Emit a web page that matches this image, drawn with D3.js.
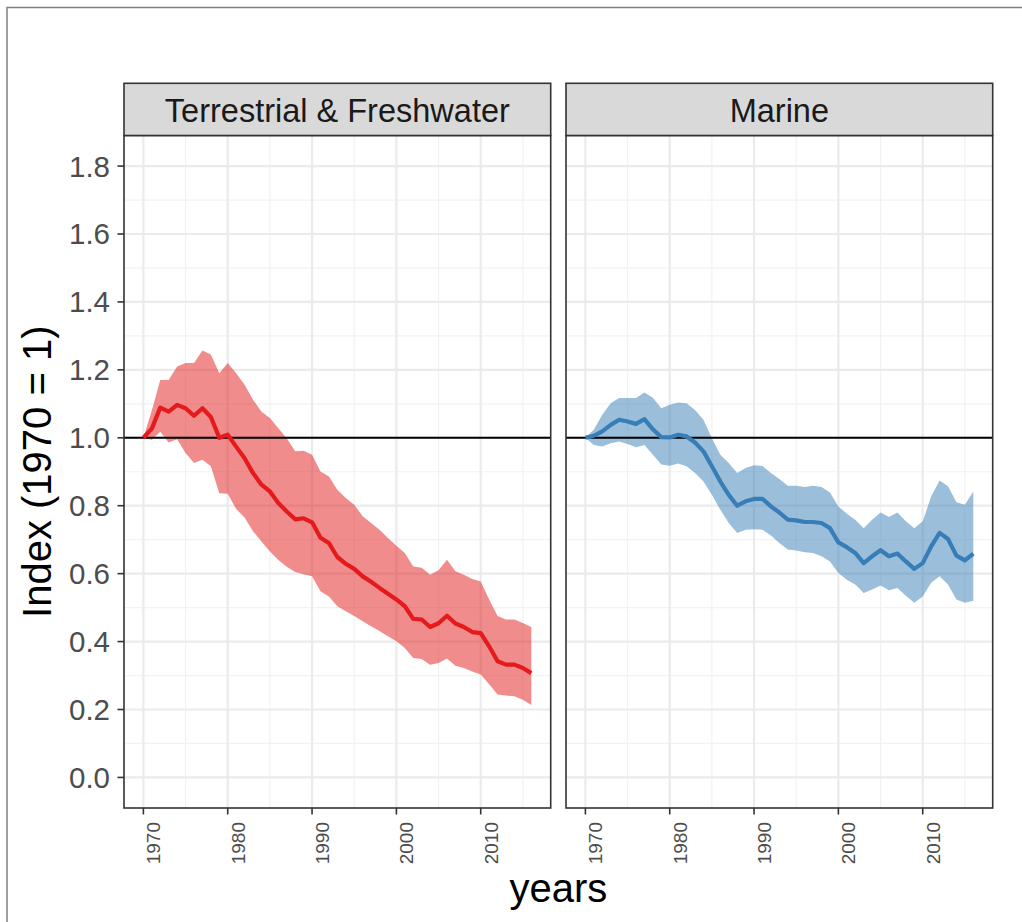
<!DOCTYPE html>
<html>
<head>
<meta charset="utf-8">
<script src="https://cdn.jsdelivr.net/npm/d3@7"></script>
<style>
  body { margin: 0; background: #fff; }
  svg text { font-family: "Liberation Sans", Arial, sans-serif; }
</style>
</head>
<body>
<div id="svgpic"></div>
<script>
  var width = 1022;
  var height = 922;

  // data, years 1970..2016
  var years = d3.range(1970, 2017);
  var facets = ["Terrestrial & Freshwater", "Marine"];
  var yTicks = [0.0, 0.2, 0.4, 0.6, 0.8, 1.0, 1.2, 1.4, 1.6, 1.8];
  var xTicks = [1970, 1980, 1990, 2000, 2010];

  var tfIndex = [1.0, 1.027, 1.089, 1.077, 1.097, 1.087, 1.065, 1.087, 1.061, 1.0,
    1.009, 0.974, 0.94, 0.896, 0.862, 0.842, 0.808, 0.783, 0.76, 0.763,
    0.751, 0.706, 0.69, 0.649, 0.629, 0.614, 0.592, 0.576, 0.558, 0.541,
    0.524, 0.504, 0.467, 0.465, 0.443, 0.454, 0.476, 0.453, 0.443, 0.428,
    0.425, 0.386, 0.342, 0.332, 0.332, 0.322, 0.307];
  var tfUpper = [1.0, 1.08, 1.17, 1.17, 1.21, 1.22, 1.22, 1.257, 1.245, 1.19,
    1.22, 1.19, 1.156, 1.112, 1.077, 1.058, 1.028, 0.999, 0.96, 0.962,
    0.95, 0.901, 0.886, 0.847, 0.823, 0.803, 0.769, 0.749, 0.729, 0.705,
    0.682, 0.661, 0.621, 0.617, 0.597, 0.61, 0.641, 0.607, 0.597, 0.584,
    0.577, 0.524, 0.475, 0.465, 0.465, 0.455, 0.443];
  var tfLower = [1.0, 0.994, 1.018, 0.986, 0.996, 0.955, 0.926, 0.935, 0.916, 0.837,
    0.835, 0.79, 0.765, 0.725, 0.695, 0.665, 0.64, 0.62, 0.605, 0.598,
    0.592, 0.548, 0.533, 0.504, 0.489, 0.475, 0.46, 0.445, 0.431, 0.416,
    0.401, 0.381, 0.352, 0.349, 0.332, 0.337, 0.35, 0.329, 0.322, 0.312,
    0.303, 0.274, 0.244, 0.241, 0.239, 0.229, 0.213];

  var marIndex = [1.0, 1.006, 1.019, 1.038, 1.053, 1.048, 1.041, 1.055, 1.025, 1.002,
    1.001, 1.009, 1.004, 0.986, 0.96, 0.916, 0.871, 0.832, 0.8, 0.813,
    0.82, 0.82, 0.798, 0.78, 0.759, 0.757, 0.752, 0.752, 0.749, 0.734,
    0.692, 0.678, 0.661, 0.631, 0.651, 0.669, 0.651, 0.659, 0.636, 0.614,
    0.631, 0.68, 0.72, 0.702, 0.653, 0.639, 0.659];
  var marUpper = [1.0, 1.024, 1.068, 1.102, 1.117, 1.117, 1.117, 1.133, 1.118, 1.087,
    1.097, 1.104, 1.102, 1.082, 1.053, 0.999, 0.95, 0.926, 0.896, 0.911,
    0.919, 0.917, 0.896, 0.879, 0.859, 0.859, 0.855, 0.859, 0.855, 0.839,
    0.798, 0.776, 0.759, 0.734, 0.759, 0.78, 0.767, 0.78, 0.754, 0.734,
    0.754, 0.827, 0.874, 0.857, 0.81, 0.803, 0.842];
  var marLower = [1.0, 0.979, 0.974, 0.984, 0.989, 0.982, 0.972, 0.979, 0.95, 0.921,
    0.918, 0.924, 0.916, 0.896, 0.871, 0.832, 0.788, 0.749, 0.72, 0.729,
    0.731, 0.729, 0.712, 0.69, 0.671, 0.668, 0.663, 0.661, 0.651, 0.636,
    0.602, 0.582, 0.568, 0.543, 0.553, 0.565, 0.551, 0.558, 0.535, 0.514,
    0.533, 0.573, 0.592, 0.568, 0.524, 0.514, 0.52];

  var lineColors = ["#E41A1C", "#377EB8"];

  var series = [
    { name: facets[0], index: tfIndex, upper: tfUpper, lower: tfLower, color: lineColors[0] },
    { name: facets[1], index: marIndex, upper: marUpper, lower: marLower, color: lineColors[1] }
  ];

  var panelLeft = [124, 566];
  var panelW = 426.7;
  var plotTop = 135.5, plotBottom = 808, stripTop = 83.3;

  var svg = d3.select("#svgpic")
              .append("svg")
              .attr("width", width)
              .attr("height", height);

  // outer border
  svg.append("rect")
     .attr("x", 7).attr("y", 7.5)
     .attr("width", 1030).attr("height", 930)
     .attr("fill", "none")
     .attr("stroke", "#808080")
     .attr("stroke-width", 1.5);

  var y = d3.scaleLinear().domain([-0.09, 1.89]).range([plotBottom, plotTop]);

  series.forEach(function(s, i){
    var x0 = panelLeft[i];
    var x = d3.scaleLinear().domain([1967.7, 2018.3]).range([x0, x0 + panelW]);
    var g = svg.append("g");

    // minor grid
    g.selectAll(".ymin").data([0.1, 0.3, 0.5, 0.7, 0.9, 1.1, 1.3, 1.5, 1.7]).enter()
     .append("line")
     .attr("x1", x0).attr("x2", x0 + panelW)
     .attr("y1", function(d){ return y(d); }).attr("y2", function(d){ return y(d); })
     .style("stroke", "#F2F2F2").style("stroke-width", 1.2);
    g.selectAll(".xmin").data([1975, 1985, 1995, 2005, 2015]).enter()
     .append("line")
     .attr("y1", plotTop).attr("y2", plotBottom)
     .attr("x1", function(d){ return x(d); }).attr("x2", function(d){ return x(d); })
     .style("stroke", "#F2F2F2").style("stroke-width", 1.2);
    // major grid
    g.selectAll(".ymaj").data(yTicks).enter()
     .append("line")
     .attr("x1", x0).attr("x2", x0 + panelW)
     .attr("y1", function(d){ return y(d); }).attr("y2", function(d){ return y(d); })
     .style("stroke", "#EBEBEB").style("stroke-width", 2.2);
    g.selectAll(".xmaj").data(xTicks).enter()
     .append("line")
     .attr("y1", plotTop).attr("y2", plotBottom)
     .attr("x1", function(d){ return x(d); }).attr("x2", function(d){ return x(d); })
     .style("stroke", "#EBEBEB").style("stroke-width", 2.2);

    var rows = years.map(function(yr, k){
      return { year: yr, v: s.index[k], lo: s.lower[k], hi: s.upper[k] };
    });

    var area = d3.area()
      .x(function(d){ return x(d.year); })
      .y0(function(d){ return y(d.lo); })
      .y1(function(d){ return y(d.hi); });
    g.append("path").datum(rows)
     .attr("d", area)
     .attr("fill", s.color)
     .attr("fill-opacity", 0.5);

    // reference line at 1
    g.append("line")
     .attr("x1", x0).attr("x2", x0 + panelW)
     .attr("y1", y(1)).attr("y2", y(1))
     .style("stroke", "#000").style("stroke-width", 2);

    var line = d3.line()
      .x(function(d){ return x(d.year); })
      .y(function(d){ return y(d.v); });
    g.append("path").datum(rows)
     .attr("d", line)
     .attr("fill", "none")
     .attr("stroke", s.color)
     .attr("stroke-width", 4.2)
     .attr("stroke-linejoin", "round");

    // panel border
    g.append("rect")
     .attr("x", x0).attr("y", plotTop)
     .attr("width", panelW).attr("height", plotBottom - plotTop)
     .attr("fill", "none")
     .attr("stroke", "#333333").attr("stroke-width", 1.6);

    // strip
    g.append("rect")
     .attr("x", x0).attr("y", stripTop)
     .attr("width", panelW).attr("height", plotTop - stripTop)
     .attr("fill", "#D9D9D9")
     .attr("stroke", "#333333").attr("stroke-width", 1.6);
    g.append("text")
     .attr("x", x0 + panelW / 2).attr("y", 121.5)
     .attr("text-anchor", "middle")
     .style("font-size", "32.5px")
     .style("fill", "#1A1A1A")
     .text(s.name);

    // x ticks
    g.selectAll(".xt").data(xTicks).enter()
     .append("line")
     .attr("x1", function(d){ return x(d); }).attr("x2", function(d){ return x(d); })
     .attr("y1", plotBottom).attr("y2", plotBottom + 6.5)
     .style("stroke", "#333333").style("stroke-width", 1.6);
    g.selectAll(".xl").data(xTicks).enter()
     .append("text")
     .attr("transform", function(d){ return "translate(" + (x(d) + 16.8) + ",822) rotate(-90)"; })
     .attr("text-anchor", "end")
     .style("font-size", "19px")
     .style("fill", "#4D4D4D")
     .text(function(d){ return d; });

    if (i === 0) {
      g.selectAll(".yt").data(yTicks).enter()
       .append("line")
       .attr("x1", x0 - 6.5).attr("x2", x0)
       .attr("y1", function(d){ return y(d); }).attr("y2", function(d){ return y(d); })
       .style("stroke", "#333333").style("stroke-width", 1.6);
      g.selectAll(".yl").data(yTicks).enter()
       .append("text")
       .attr("x", 110)
       .attr("y", function(d){ return y(d) + 10.5; })
       .attr("text-anchor", "end")
       .style("font-size", "29.5px")
       .style("fill", "#4D4D4D")
       .text(function(d){ return d.toFixed(1); });
    }
  });

  // axis titles
  svg.append("text")
     .attr("transform", "translate(51," + ((plotTop + plotBottom) / 2) + ") rotate(-90)")
     .attr("text-anchor", "middle")
     .style("font-size", "40px")
     .style("fill", "#000")
     .text("Index (1970 = 1)");
  svg.append("text")
     .attr("x", (panelLeft[0] + panelLeft[1] + panelW) / 2)
     .attr("y", 902)
     .attr("text-anchor", "middle")
     .style("font-size", "40px")
     .style("fill", "#000")
     .text("years");
</script>
</body>
</html>
